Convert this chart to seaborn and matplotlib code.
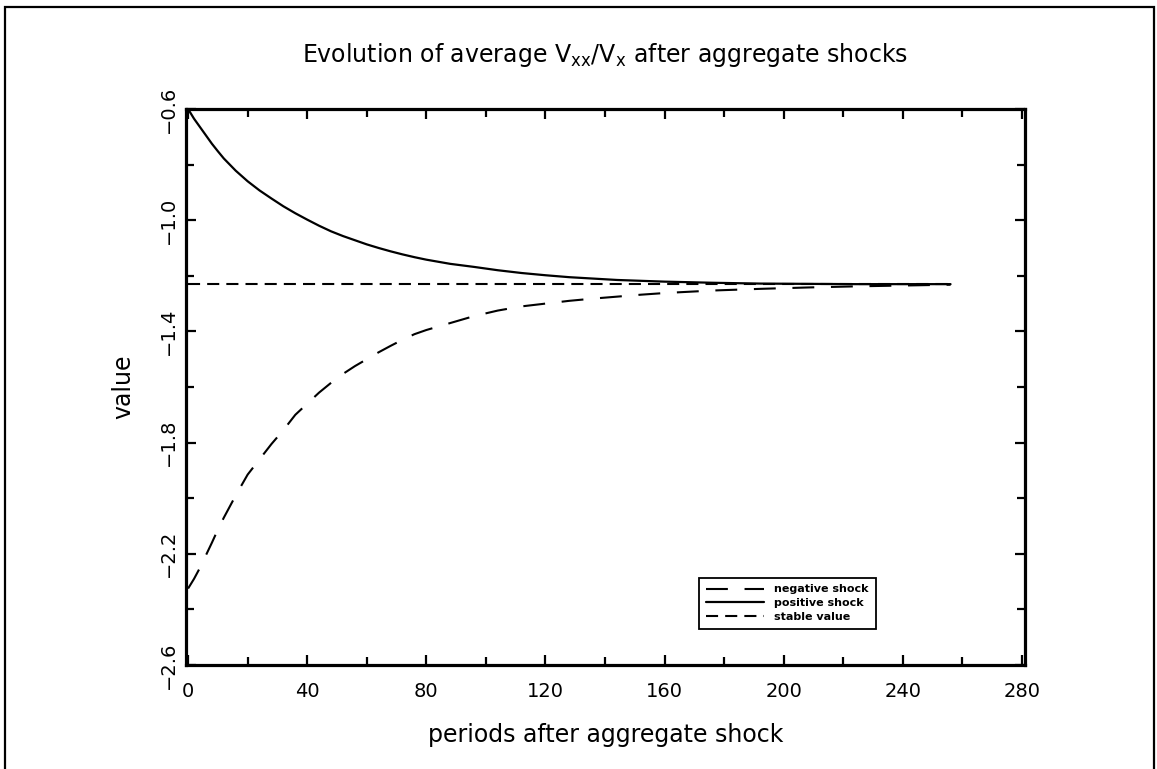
import matplotlib
matplotlib.use("Agg")
import matplotlib.pyplot as plt
from matplotlib.patches import Rectangle
import numpy as np
import pandas as pd
import seaborn as sns

# values
periods = [0, 2, 4, 6, 8, 10, 12, 14, 16, 20, 24, 28, 32, 36, 40, 44, 48, 52,
           56, 60, 64, 68, 72, 76, 80, 88, 96, 104, 112, 120, 128, 136, 144,
           152, 160, 176, 192, 208, 224, 240, 256]
negative_shock = [-2.325, -2.29, -2.25, -2.205, -2.16, -2.113, -2.07, -2.03,
                  -1.99, -1.915, -1.86, -1.805, -1.755, -1.70, -1.66, -1.62,
                  -1.585, -1.553, -1.525, -1.50, -1.475, -1.452, -1.43, -1.41,
                  -1.395, -1.37, -1.345, -1.325, -1.31, -1.30, -1.29, -1.282,
                  -1.275, -1.268, -1.262, -1.253, -1.247, -1.242, -1.238,
                  -1.235, -1.232]
positive_shock = [-0.60, -0.635, -0.665, -0.695, -0.725, -0.752, -0.778, -0.80,
                  -0.822, -0.86, -0.893, -0.922, -0.95, -0.975, -0.998, -1.02,
                  -1.04, -1.057, -1.072, -1.087, -1.10, -1.112, -1.123, -1.133,
                  -1.142, -1.157, -1.168, -1.18, -1.19, -1.198, -1.205, -1.21,
                  -1.215, -1.218, -1.221, -1.225, -1.228, -1.229, -1.23,
                  -1.23, -1.23]
stable_periods = [0, 256]
stable_value = [-1.23, -1.23]

x_ticks = [0, 40, 80, 120, 160, 200, 240, 280]
y_ticks = [-2.6, -2.2, -1.8, -1.4, -1.0, -0.6]

sns.set_style("ticks")
plt.rcParams['font.family'] = ['DejaVu Sans']
plt.rcParams['mathtext.default'] = 'regular'
plt.rcParams['text.color'] = 'black'
plt.rcParams['axes.labelcolor'] = 'black'
plt.rcParams['xtick.color'] = 'black'
plt.rcParams['ytick.color'] = 'black'

fig = plt.figure(figsize=(11.57, 7.69), dpi=100)
ax = fig.add_axes([186/1157, 1-665/769, (1025-186)/1157, (665-109)/769])

df_neg = pd.DataFrame({'period': periods, 'value': negative_shock})
df_pos = pd.DataFrame({'period': periods, 'value': positive_shock})
df_stab = pd.DataFrame({'period': stable_periods, 'value': stable_value})

sns.lineplot(data=df_neg, x='period', y='value', color='black', lw=1.5,
             linestyle=(0, (10.5, 8)), label='negative shock', ax=ax)
sns.lineplot(data=df_pos, x='period', y='value', color='black', lw=1.6,
             label='positive shock', ax=ax)
sns.lineplot(data=df_stab, x='period', y='value', color='black', lw=1.5,
             linestyle=(0, (5.8, 3.4)), label='stable value', ax=ax)

ax.set_xlim(-0.7, 281)
ax.set_ylim(-2.6, -0.6)
ax.set_xticks(x_ticks)
ax.set_xticks(np.arange(20, 280, 40), minor=True)
ax.set_yticks(y_ticks)
ax.set_yticks(np.arange(-2.4, -0.6, 0.4), minor=True)
ax.set_yticklabels([('%.1f' % v).replace('-', '\u2212') for v in y_ticks],
                   rotation=90, va='center')
ax.set_xticklabels([str(v) for v in x_ticks])

ax.tick_params(which='both', direction='in', top=True, right=True,
               width=1.6, color='black')
ax.tick_params(which='major', length=7)
ax.tick_params(which='minor', length=6)
ax.tick_params(axis='x', which='both', pad=12, labelsize=14)
ax.tick_params(axis='y', which='both', pad=6, labelsize=14)
for sp in ax.spines.values():
    sp.set_linewidth(2.3)
    sp.set_color('black')

ax.set_title(r"Evolution of average V$_{xx}$/V$_x$ after aggregate shocks",
             fontsize=17, pad=34, color='black')
ax.set_xlabel("periods after aggregate shock", fontsize=17, labelpad=16)
ax.set_ylabel("value", fontsize=17, labelpad=17)

leg = ax.legend(loc='lower right', bbox_to_anchor=(0.822, 0.065),
                borderaxespad=0, fancybox=False, framealpha=1,
                edgecolor='black', handlelength=5.3, handletextpad=0.9,
                labelspacing=0.35, borderpad=0.6,
                prop={'weight': 'bold', 'size': 8})
leg.get_frame().set_linewidth(1.3)
for t in leg.get_texts():
    t.set_color('black')

# border round the whole picture
fig.patches.append(Rectangle((5/1157, -0.05), (1154-5)/1157, 1-7/769+0.05,
                             transform=fig.transFigure, fill=False,
                             lw=1.6, edgecolor='black'))

plt.savefig('out.png', dpi=100)
